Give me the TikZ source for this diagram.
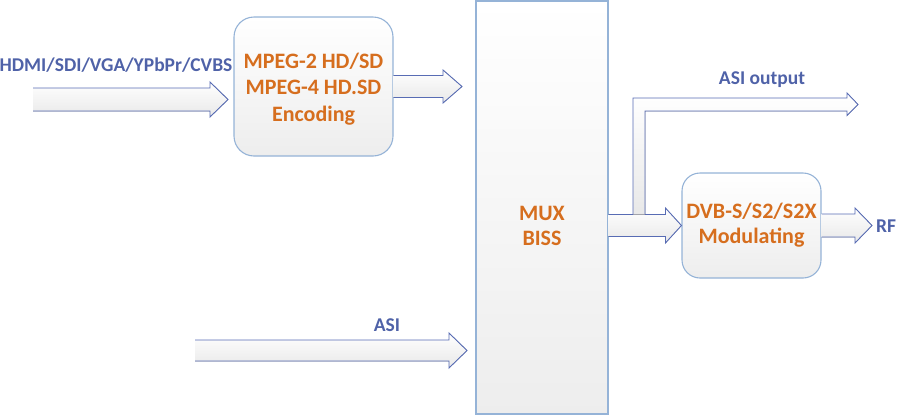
\documentclass[tikz,border=0pt]{standalone}
\usepackage{fontspec}
\setmainfont{Carlito}
\usetikzlibrary{calc}
\definecolor{txtblue}{RGB}{79,98,168}
\definecolor{txtorange}{RGB}{214,110,30}
\definecolor{boxline}{RGB}{149,179,215}
\definecolor{arrline}{RGB}{88,108,180}
\newcommand\blockarr[5]{%
  \fill[arrfill] ($(#1)+(0,-#3)$) -- ($(#2)+(-#5,-#3)$) -- ($(#2)+(-#5,-#4)$) -- (#2) -- ($(#2)+(-#5,#4)$) -- ($(#2)+(-#5,#3)$) -- ($(#1)+(0,#3)$) -- cycle;
  \draw[arredge] ($(#1)+(0,-#3)$) -- ($(#2)+(-#5,-#3)$) -- ($(#2)+(-#5,-#4)$) -- (#2) -- ($(#2)+(-#5,#4)$) -- ($(#2)+(-#5,#3)$) -- ($(#1)+(0,#3)$);}
\begin{document}
\begin{tikzpicture}[x=1pt,y=-1pt,
  box/.style={draw=boxline, line width=1.1pt, top color=white, bottom color=black!7, inner sep=0pt, align=center, text=txtorange, font=\fontsize{22}{26}\selectfont\bfseries},
  otxt/.style={align=center, text=txtorange, font=\fontsize{22}{25}\selectfont\bfseries, inner sep=0pt},
  arrfill/.style={top color=white, bottom color=black!9},
  arredge/.style={draw=arrline, line width=0.9pt, line join=miter},
  lbl/.style={text=txtblue, font=\fontsize{19.5}{22}\selectfont\bfseries, inner sep=0pt}]
\useasboundingbox (0,0) rectangle (897,416);
\node[box, rounded corners=20pt, minimum width=159pt, minimum height=139pt] (enc) at (313.5,86.5) {};
\node[otxt, font=\fontsize{22}{26.5}\selectfont\bfseries] (enctxt) at (313.5,89) {MPEG-2 HD/SD\\MPEG-4 HD.SD\\Encoding};
\node[box, minimum width=132pt, minimum height=413pt] (mux) at (542,207.5) {};
\node[otxt] (muxtxt) at (542,225.5) {MUX\\BISS};
\node[box, rounded corners=18pt, minimum width=139pt, minimum height=105pt] (mod) at (751.5,225.5) {};
\node[otxt] (modtxt) at (751.5,225.5) {DVB-S/S2/S2X\\Modulating};
% input arrow
\coordinate (inS) at (33,99.5);
\coordinate (inT) at (228,99.5);
\blockarr{inS}{inT}{11.5}{17.5}{18}
% encoder to mux
\coordinate (e2T) at (462,86.5);
\blockarr{enc.east}{e2T}{11}{16.5}{19}
% ASI input
\coordinate (asiS) at (195,350.5);
\coordinate (asiT) at (467,350.5);
\blockarr{asiS}{asiT}{10.5}{17.5}{18}
% mux to modulator
\coordinate (mS) at (mux.east |- mod.west);
\blockarr{mS}{mod.west}{11}{17.5}{16}
% RF
\coordinate (rfT) at (872,225.5);
\blockarr{mod.east}{rfT}{11.5}{17.5}{17}
% ASI output branch
\coordinate (aoT) at (858,104.5);
\fill[arrfill] (633,214.5) -- (633,98) -- ($(aoT)+(-11,-6.5)$) -- ($(aoT)+(-11,-11.5)$) -- (aoT) -- ($(aoT)+(-11,11)$) -- ($(aoT)+(-11,6.5)$) -- (645,111) -- (645,214.5) -- cycle;
\draw[arredge] (633,214.5) -- (633,98) -- ($(aoT)+(-11,-6.5)$) -- ($(aoT)+(-11,-11.5)$) -- (aoT) -- ($(aoT)+(-11,11)$) -- ($(aoT)+(-11,6.5)$) -- (645,111) -- (645,214.5);
% labels
\node[lbl] (lin) at (116,65) {HDMI/SDI/VGA/YPbPr/CVBS};
\node[lbl] (lao) at (762,80) {ASI output};
\node[lbl] (lasi) at (387,325) {ASI};
\node[lbl, anchor=west] (lrf) at (876,226) {RF};
\end{tikzpicture}
\end{document}
